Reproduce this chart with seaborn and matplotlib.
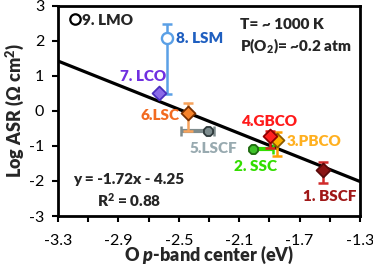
import matplotlib
matplotlib.use("Agg")
import matplotlib.pyplot as plt
from matplotlib.lines import Line2D
import numpy as np
import pandas as pd
import seaborn as sns

# ---- data ----
names = ["1. BSCF", "2. SSC", "3.PBCO", "4.GBCO", "5.LSCF", "6.LSC", "7. LCO", "8. LSM"]
o_pband = [-1.543, -2.011, -1.848, -1.896, -2.305, -2.437, -2.63, -2.576]
log_asr = [-1.68, -1.09, -0.84, -0.72, -0.58, -0.05, 0.50, 2.08]
xerr_lo = [0.0, 0.0, 0.0, 0.0, 0.18, 0.0, 0.0, 0.0]
xerr_hi = [0.0, 0.134, 0.0, 0.0, 0.04, 0.0, 0.0, 0.0]
yerr_lo = [0.38, 0.0, 0.46, 0.34, 0.0, 0.53, 0.0, 1.60]
yerr_hi = [0.22, 0.0, 0.25, 0.14, 0.0, 0.29, 0.0, 0.40]
markers = ["D", "8", "D", "D", "8", "D", "D", "o"]
face_colors = ["#8b1414", "#3fc22a", "#ffb000", "#ff2020", "#7d8c8e", "#f5822a", "#8a6be8", "white"]
edge_colors = ["#5a0a0a", "#1f6a10", "#8a5a00", "#8b0000", "#2f3a3c", "#7a3000", "#4b2fbf", "#5ba0e6"]
err_colors = ["#d02a2a", "#33dd00", "#ffa000", "#e02020", "#7f8c8d", "#f7a35c", "#8a6be8", "#5ba0e6"]
text_colors = ["#a01818", "#33dd00", "#ffb020", "#ff1a1a", "#98aab0", "#f26b21", "#7030e0", "#1f5fc0"]
label_x = [-1.502, -1.989, -1.783, -1.896, -2.27, -2.492, -2.585, -2.519]
label_y = [-2.45, -1.59, -0.87, -0.29, -1.08, -0.13, 0.99, 2.08]
label_ha = ["center", "center", "left", "center", "center", "right", "right", "left"]

fit_slope = -1.72
fit_intercept = -4.25
x_range = [-3.3, -1.3]
y_range = [-3, 3]
x_major = [-3.3, -2.9, -2.5, -2.1, -1.7, -1.3]
x_minor = [-3.1, -2.7, -2.3, -1.9, -1.5]
y_ticks = [-3, -2, -1, 0, 1, 2, 3]

df = pd.DataFrame({"name": names, "x": o_pband, "y": log_asr})

# ---- style ----
sns.set_theme(style="white")
plt.rcParams["font.family"] = ["Lato", "DejaVu Sans"]
plt.rcParams["mathtext.fontset"] = "custom"
plt.rcParams["mathtext.rm"] = "Lato"
plt.rcParams["mathtext.bf"] = "Lato:heavy"
plt.rcParams["mathtext.it"] = "Lato:italic"
plt.rcParams["mathtext.bfit"] = "Lato:heavy:italic"

BOLD = 800
FS = 11

fig = plt.figure(figsize=(3.73, 2.69), dpi=100)
ax = fig.add_axes([0.1555, 0.197, 0.8095, 0.781])

# fit line
xl = np.array(x_range)
sns.lineplot(x=xl, y=fit_slope * xl + fit_intercept, ax=ax, color="black", linewidth=2.3, zorder=2)

# error bars
for i in range(len(names)):
    has_x = xerr_lo[i] > 0 or xerr_hi[i] > 0
    has_y = yerr_lo[i] > 0 or yerr_hi[i] > 0
    if not (has_x or has_y):
        continue
    kw = {}
    if has_x:
        kw["xerr"] = [[xerr_lo[i]], [xerr_hi[i]]]
    if has_y:
        kw["yerr"] = [[yerr_lo[i]], [yerr_hi[i]]]
    lw = 3.0 if has_x else 1.8
    eb = ax.errorbar([o_pband[i]], [log_asr[i]], fmt="none", ecolor=err_colors[i],
                     elinewidth=lw, capsize=3.5, capthick=1.8, zorder=3, **kw)
    for cap in eb[1]:
        cap.set_color("#3a3a3a" if i != 7 else err_colors[i])

# markers
for i in range(len(names)):
    sns.scatterplot(x=[o_pband[i]], y=[log_asr[i]], ax=ax, marker=markers[i],
                    s=50 if markers[i] != "o" else 64,
                    facecolor=face_colors[i], edgecolor=edge_colors[i],
                    linewidth=1.3 if markers[i] != "o" else 1.7, zorder=4, legend=False)

# point labels
for i in range(len(names)):
    ax.text(label_x[i], label_y[i], names[i], color=text_colors[i], fontsize=FS,
            fontweight=BOLD, ha=label_ha[i], va="center", zorder=5)

# condition / equation text
ax.text(-2.095, 2.46, "T= ~ 1000 K", fontsize=FS, fontweight=BOLD, ha="left", va="center")
ax.text(-2.095, 1.83, r"P(O$_\mathbf{2}$)= ~0.2 atm", fontsize=FS, fontweight=BOLD, ha="left", va="center")
ax.text(-2.83, -1.97, "y = -1.72x - 4.25", fontsize=FS, fontweight=BOLD, ha="center", va="center")
ax.text(-2.83, -2.54, r"R$^\mathbf{2}$ = 0.88", fontsize=FS, fontweight=BOLD, ha="center", va="center")

# LMO legend-like entry
handle = Line2D([], [], marker="o", linestyle="none", markerfacecolor="white",
                markeredgecolor="black", markeredgewidth=1.6, markersize=7.5)
leg = ax.legend([handle], ["9. LMO"], loc="upper left", frameon=False,
                prop={"weight": BOLD, "size": FS}, handletextpad=-0.1,
                borderaxespad=0.3, borderpad=0.2, handlelength=1.2)

# axes
ax.set_xlim(*x_range)
ax.set_ylim(*y_range)
ax.set_xticks(x_major)
ax.set_xticks(x_minor, minor=True)
ax.set_xticklabels([f"{v:.1f}" for v in x_major])
ax.set_yticks(y_ticks)
ax.set_yticklabels([str(v) for v in y_ticks])
ax.tick_params(axis="x", which="both", direction="out", length=4, width=1.5,
               bottom=True, pad=9, labelsize=11.5, colors="black")
ax.tick_params(axis="y", which="both", direction="out", length=4, width=1.5,
               left=True, pad=6, labelsize=11.5, colors="black")
for s in ax.spines.values():
    s.set_linewidth(2.0)
    s.set_color("black")
ax.set_xlabel(r"O $\mathbfit{p}$-band center (eV)", fontsize=13, fontweight=BOLD, labelpad=-3)
ax.set_ylabel(r"Log ASR ($\mathbf{\Omega}$ cm$^\mathbf{2}$)", fontsize=13, fontweight=BOLD, labelpad=2)
ax.grid(False)

fig.savefig("out.png", dpi=100)
